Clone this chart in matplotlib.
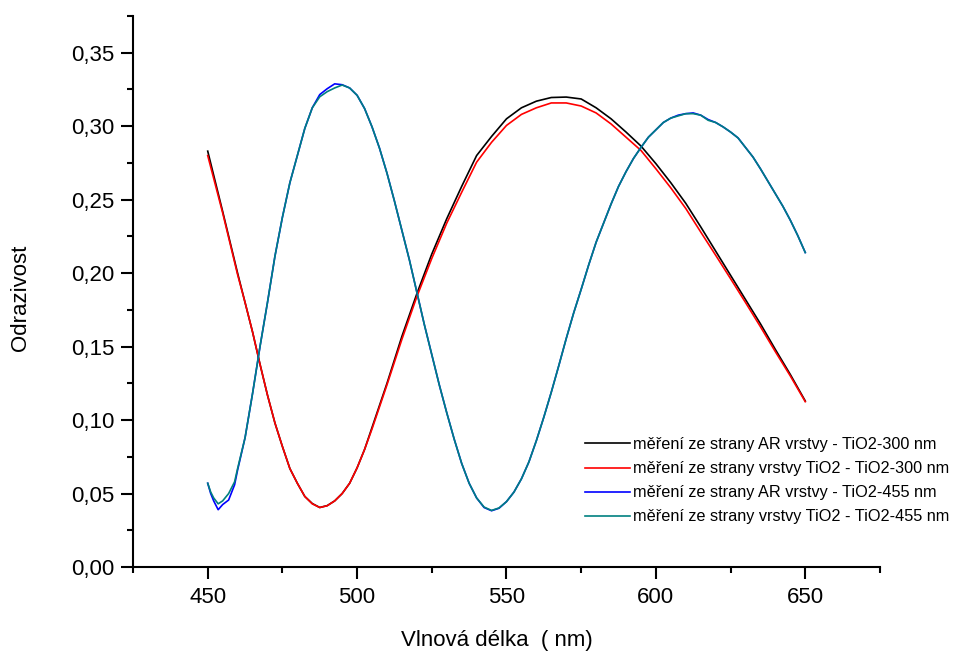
import numpy as np
import matplotlib.pyplot as plt
from matplotlib.ticker import FuncFormatter, MultipleLocator

plt.rcParams['font.family'] = ['Liberation Sans', 'DejaVu Sans']

# TiO2-300 nm: wavelength (nm) and reflectance
wl_300 = [450, 455, 460, 462.5, 465, 467.5, 470, 472.5, 475, 477.5, 480, 482.5, 485, 487.5,
          490, 492.5, 495, 497.5, 500, 502.5, 505, 507.5, 510, 515, 520, 525, 530, 535, 540,
          545, 550, 555, 560, 565, 570, 575, 580, 585, 590, 595, 600, 605, 610, 615, 620,
          625, 630, 635, 640, 645, 650]
ar_300 = [0.283, 0.242, 0.200, 0.180, 0.160, 0.138, 0.117, 0.098, 0.082, 0.067, 0.057, 0.048,
          0.0432, 0.0405, 0.0418, 0.045, 0.050, 0.057, 0.0675, 0.080, 0.095, 0.110, 0.125,
          0.157, 0.186, 0.213, 0.237, 0.259, 0.280, 0.293, 0.305, 0.3125, 0.317, 0.3195,
          0.3198, 0.3185, 0.3125, 0.305, 0.296, 0.2865, 0.2745, 0.2615, 0.2475, 0.2315,
          0.2150, 0.1985, 0.1820, 0.1655, 0.1480, 0.1310, 0.1130]
tio2_300 = [0.280, 0.241, 0.199, 0.180, 0.160, 0.138, 0.117, 0.098, 0.082, 0.067, 0.057, 0.048,
            0.0430, 0.0405, 0.0417, 0.045, 0.050, 0.057, 0.0675, 0.080, 0.094, 0.109, 0.124,
            0.155, 0.184, 0.210, 0.234, 0.255, 0.2755, 0.289, 0.3005, 0.308, 0.3125, 0.3158,
            0.3158, 0.3137, 0.309, 0.3015, 0.2925, 0.2835, 0.271, 0.258, 0.244, 0.228, 0.2122,
            0.1962, 0.1800, 0.1635, 0.1465, 0.1300, 0.1125]

# TiO2-455 nm
wl_455 = [450, 451, 452, 453.5, 455, 457, 459, 460, 462.5, 465, 467.5, 470, 472.5, 475, 477.5,
          480, 482.5, 485, 487.5, 490, 492.5, 495, 497.5, 500, 502.5, 505, 507.5, 510, 512.5,
          515, 517.5, 520, 522.5, 525, 527.5, 530, 532.5, 535, 537.5, 540, 542.5, 545, 547.5,
          550, 552.5, 555, 557.5, 560, 562.5, 565, 567.5, 570, 572.5, 575, 577.5, 580, 582.5,
          585, 587.5, 590, 592.5, 595, 597.5, 600, 602.5, 605, 607.5, 610, 612.5, 615, 617.5,
          620, 622.5, 625, 627.5, 630, 632.5, 635, 637.5, 640, 642.5, 645, 647.5, 650]
ar_455 = [0.057, 0.050, 0.045, 0.039, 0.0425, 0.0456, 0.056, 0.066, 0.088, 0.118, 0.150, 0.180,
          0.2115, 0.238, 0.2615, 0.280, 0.2985, 0.3125, 0.3215, 0.3255, 0.3288, 0.3282, 0.326,
          0.321, 0.312, 0.2995, 0.285, 0.268, 0.249, 0.229, 0.209, 0.187, 0.165, 0.1445, 0.124,
          0.105, 0.087, 0.0705, 0.057, 0.047, 0.0405, 0.0383, 0.040, 0.0445, 0.051, 0.060,
          0.0715, 0.086, 0.102, 0.119, 0.137, 0.1555, 0.173, 0.189, 0.2055, 0.221, 0.234,
          0.247, 0.259, 0.269, 0.278, 0.2855, 0.2925, 0.2975, 0.3025, 0.3055, 0.3075, 0.3085,
          0.309, 0.3075, 0.3045, 0.3025, 0.2995, 0.296, 0.292, 0.2855, 0.279, 0.271, 0.2625,
          0.254, 0.2455, 0.236, 0.2255, 0.214]
tio2_455 = [0.057, 0.051, 0.047, 0.043, 0.045, 0.050, 0.058, 0.067, 0.088, 0.118, 0.150, 0.180,
            0.2115, 0.238, 0.2615, 0.280, 0.2985, 0.3125, 0.320, 0.3235, 0.326, 0.328, 0.326,
            0.321, 0.312, 0.2995, 0.285, 0.268, 0.249, 0.229, 0.209, 0.187, 0.165, 0.1445,
            0.124, 0.105, 0.087, 0.0705, 0.057, 0.047, 0.0408, 0.0385, 0.0402, 0.0445, 0.051,
            0.060, 0.0715, 0.086, 0.102, 0.119, 0.137, 0.1555, 0.173, 0.189, 0.2055, 0.221,
            0.234, 0.247, 0.259, 0.269, 0.278, 0.2855, 0.2925, 0.2975, 0.3025, 0.3055, 0.307,
            0.3085, 0.3085, 0.3075, 0.304, 0.3025, 0.2995, 0.296, 0.292, 0.2855, 0.279, 0.271,
            0.2625, 0.254, 0.2455, 0.236, 0.2255, 0.214]

labels = ["měření ze strany AR vrstvy - TiO2-300 nm",
          "měření ze strany vrstvy TiO2 - TiO2-300 nm",
          "měření ze strany AR vrstvy - TiO2-455 nm",
          "měření ze strany vrstvy TiO2 - TiO2-455 nm"]
colors = ["#000000", "#ff0000", "#0000ff", "#008080"]

fig = plt.figure(figsize=(9.57, 6.51), dpi=100)
ax = fig.add_axes([0.139, 0.129, 0.7805, 0.8465])

series = [(wl_300, ar_300), (wl_300, tio2_300), (wl_455, ar_455), (wl_455, tio2_455)]
for (x, y), c, lab in zip(series, colors, labels):
    ax.plot(x, y, color=c, lw=1.2, label=lab)

ax.set_xlim(425, 675)
ax.set_ylim(0, 0.375)
ax.xaxis.set_major_locator(MultipleLocator(50))
ax.xaxis.set_minor_locator(MultipleLocator(25))
ax.yaxis.set_major_locator(MultipleLocator(0.05))
ax.yaxis.set_minor_locator(MultipleLocator(0.025))
ax.yaxis.set_major_formatter(FuncFormatter(lambda v, p: f"{v:.2f}".replace(".", ",")))

ax.spines['top'].set_visible(False)
ax.spines['right'].set_visible(False)
for s in ['left', 'bottom']:
    ax.spines[s].set_linewidth(1.5)
ax.tick_params(which='major', direction='out', length=8.5, width=1.5, labelsize=16, pad=5)
ax.tick_params(which='minor', direction='out', length=4.5, width=1.5)
ax.tick_params(axis='x', which='major', pad=6)

ax.set_xlabel("Vlnová délka  ( nm)", fontsize=16)
ax.set_ylabel("Odrazivost", fontsize=16)
ax.xaxis.set_label_coords(0.487, -0.114)
ax.yaxis.set_label_coords(-0.1365, 0.488)

ax.legend(loc='upper left', bbox_to_anchor=(0.611, 0.3285), bbox_transform=fig.transFigure,
          frameon=False, fontsize=11.7, borderpad=0, borderaxespad=0,
          handlelength=2.77, handletextpad=0.2, labelspacing=0.56)

fig.savefig("out.png", dpi=100)
